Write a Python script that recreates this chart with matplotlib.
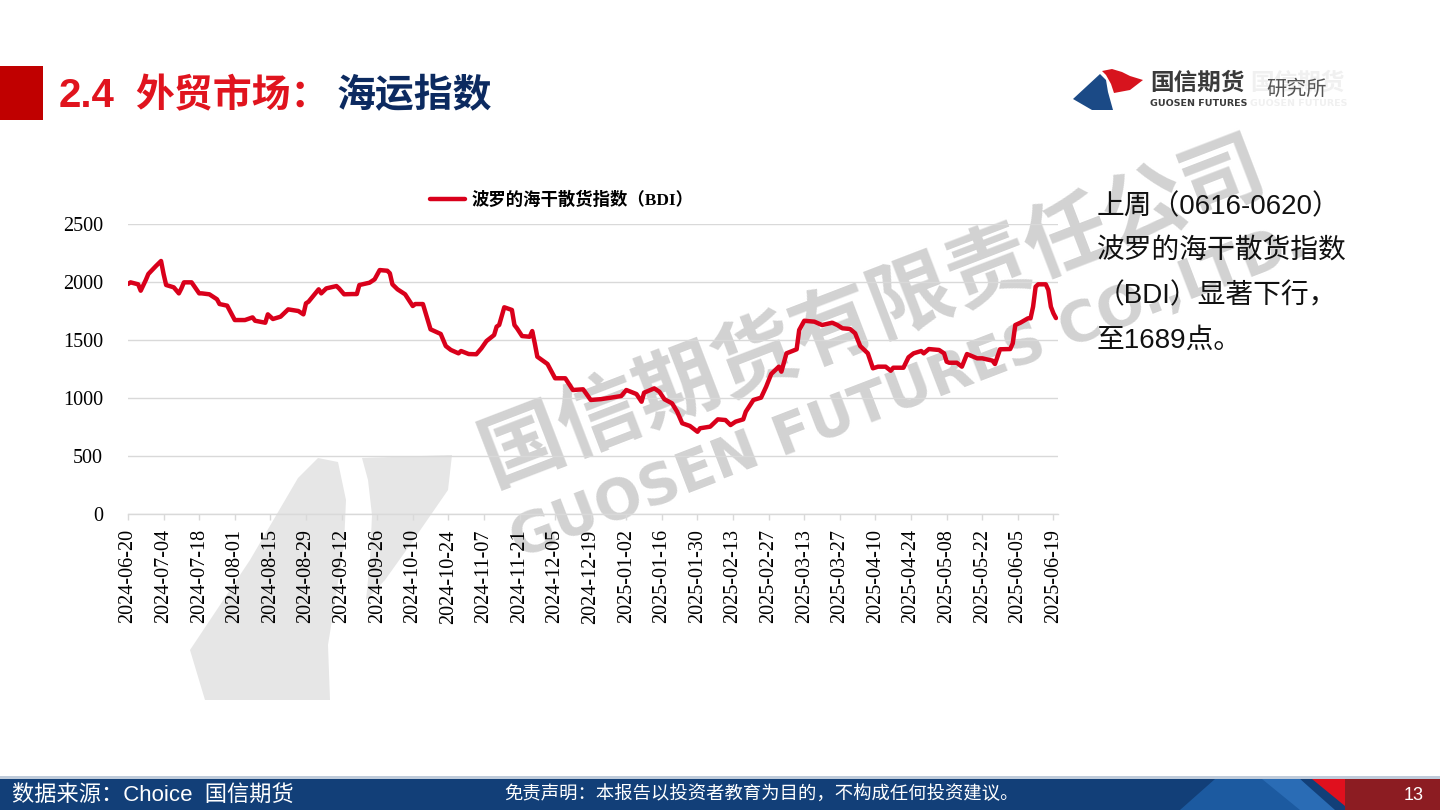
import matplotlib
matplotlib.use('Agg')
import matplotlib.pyplot as plt
from matplotlib.patches import Polygon, Rectangle
from matplotlib.font_manager import FontProperties
import pandas as pd

# ---------------- data ----------------
dates = [
    "2024-06-20", "2024-06-21", "2024-06-24", "2024-06-25", "2024-06-27", "2024-06-28",
    "2024-07-01", "2024-07-03", "2024-07-04", "2024-07-05", "2024-07-08", "2024-07-10",
    "2024-07-11", "2024-07-12", "2024-07-15", "2024-07-18", "2024-07-19", "2024-07-22",
    "2024-07-25", "2024-07-26", "2024-07-29", "2024-08-01", "2024-08-05", "2024-08-08",
    "2024-08-09", "2024-08-13", "2024-08-14", "2024-08-16", "2024-08-19", "2024-08-22",
    "2024-08-26", "2024-08-28", "2024-08-29", "2024-08-30", "2024-09-03", "2024-09-04",
    "2024-09-06", "2024-09-10", "2024-09-11", "2024-09-13", "2024-09-16", "2024-09-18",
    "2024-09-19", "2024-09-23", "2024-09-25", "2024-09-27", "2024-09-30", "2024-10-01",
    "2024-10-02", "2024-10-04", "2024-10-07", "2024-10-10", "2024-10-11", "2024-10-14",
    "2024-10-17", "2024-10-21", "2024-10-23", "2024-10-25", "2024-10-28", "2024-10-29",
    "2024-11-01", "2024-11-04", "2024-11-06", "2024-11-08", "2024-11-11", "2024-11-12",
    "2024-11-13", "2024-11-15", "2024-11-18", "2024-11-19", "2024-11-20", "2024-11-22",
    "2024-11-25", "2024-11-26", "2024-11-27", "2024-11-28", "2024-12-02", "2024-12-05",
    "2024-12-09", "2024-12-12", "2024-12-16", "2024-12-17", "2024-12-19", "2024-12-23",
    "2024-12-27", "2024-12-31", "2025-01-02", "2025-01-06", "2025-01-08", "2025-01-09",
    "2025-01-13", "2025-01-15", "2025-01-17", "2025-01-20", "2025-01-22", "2025-01-24",
    "2025-01-27", "2025-01-30", "2025-01-31", "2025-02-04", "2025-02-07", "2025-02-10",
    "2025-02-12", "2025-02-14", "2025-02-17", "2025-02-18", "2025-02-21", "2025-02-24",
    "2025-02-26", "2025-02-28", "2025-03-03", "2025-03-04", "2025-03-06", "2025-03-10",
    "2025-03-11", "2025-03-13", "2025-03-17", "2025-03-20", "2025-03-24", "2025-03-26",
    "2025-03-28", "2025-03-31", "2025-04-02", "2025-04-04", "2025-04-07", "2025-04-09",
    "2025-04-11", "2025-04-14", "2025-04-16", "2025-04-17", "2025-04-21", "2025-04-23",
    "2025-04-25", "2025-04-28", "2025-04-29", "2025-05-01", "2025-05-05", "2025-05-07",
    "2025-05-08", "2025-05-09", "2025-05-12", "2025-05-14", "2025-05-16", "2025-05-19",
    "2025-05-20", "2025-05-22", "2025-05-26", "2025-05-27", "2025-05-28", "2025-05-29",
    "2025-06-02", "2025-06-03", "2025-06-04", "2025-06-06", "2025-06-09", "2025-06-10",
    "2025-06-11", "2025-06-12", "2025-06-13", "2025-06-16", "2025-06-17", "2025-06-18",
    "2025-06-19", "2025-06-20",
]
bdi = [
    1983, 1997, 1980, 1925, 2017, 2069,
    2138, 2181, 2069, 1974, 1954, 1902,
    1945, 1997, 1997, 1902, 1902, 1894,
    1851, 1810, 1796, 1672, 1672, 1695,
    1666, 1649, 1721, 1681, 1701, 1764,
    1750, 1721, 1816, 1830, 1937, 1902,
    1945, 1965, 1945, 1894, 1896, 1896,
    1974, 1994, 2023, 2103, 2097, 2075,
    1980, 1937, 1894, 1793, 1810, 1810,
    1592, 1552, 1448, 1414, 1385, 1405,
    1379, 1377, 1428, 1491, 1543, 1615,
    1630, 1782, 1759, 1629, 1601, 1534,
    1528, 1577, 1471, 1356, 1293, 1170,
    1170, 1069, 1075, 1045, 983, 990,
    1003, 1017, 1069, 1034, 968, 1046,
    1083, 1054, 989, 954, 882, 782,
    759, 709, 739, 753, 816, 810,
    767, 796, 816, 882, 983, 1003,
    1097, 1207, 1270, 1227, 1385, 1420,
    1586, 1666, 1658, 1629, 1649, 1629,
    1601, 1595, 1558, 1448, 1385, 1256,
    1270, 1270, 1235, 1261, 1261, 1351,
    1385, 1405, 1385, 1422, 1414, 1385,
    1313, 1304, 1304, 1270, 1379, 1351,
    1342, 1342, 1322, 1293, 1356, 1420,
    1422, 1471, 1629, 1649, 1687, 1687,
    1787, 1959, 1980, 1980, 1931, 1787,
    1730, 1689,
]
x_tick_labels = [
    "2024-06-20", "2024-07-04", "2024-07-18", "2024-08-01", "2024-08-15", "2024-08-29",
    "2024-09-12", "2024-09-26", "2024-10-10", "2024-10-24", "2024-11-07", "2024-11-21",
    "2024-12-05", "2024-12-19", "2025-01-02", "2025-01-16", "2025-01-30", "2025-02-13",
    "2025-02-27", "2025-03-13", "2025-03-27", "2025-04-10", "2025-04-24", "2025-05-08",
    "2025-05-22", "2025-06-05", "2025-06-19",
]
y_ticks = [0, 500, 1000, 1500, 2000, 2500]
series_name = "波罗的海干散货指数（BDI）"
title_num = "2.4"
title_red = "外贸市场："
title_blue = "海运指数"
side_lines = ["上周（0616-0620）", "波罗的海干散货指数", "（BDI）显著下行，", "至1689点。"]
source_text = "数据来源：Choice  国信期货"
disclaimer = "免责声明：本报告以投资者教育为目的，不构成任何投资建议。"
page_no = "13"

# ---------------- figure ----------------
W, H = 1440, 810
fig = plt.figure(figsize=(14.4, 8.1), dpi=100)
fig.patch.set_facecolor('white')

def X(px):
    return px / W

def Y(py):
    return 1 - py / H

def T(px, py, s, **kw):
    return fig.text(X(px), Y(py), s, **kw)

def poly(pts, color, z=-2):
    p = Polygon([(X(a), Y(b)) for a, b in pts], closed=True, transform=fig.transFigure,
                facecolor=color, edgecolor='none', zorder=z)
    fig.add_artist(p)
    return p

def rect(x0, y0, x1, y1, color, z=1):
    r = Rectangle((X(x0), Y(y1)), (x1 - x0) / W, (y1 - y0) / H, transform=fig.transFigure,
                  facecolor=color, edgecolor='none', zorder=z)
    fig.add_artist(r)
    return r

CJK = ['Noto Sans CJK SC', 'DejaVu Sans']
SANS = ['Liberation Sans', 'Noto Sans CJK SC', 'DejaVu Sans']

# watermark (behind chart)
wm = '#D2D2D2'
wm2 = '#E6E6E6'
poly([(190, 650), (250, 560), (298, 478), (318, 458), (338, 462), (346, 500), (344, 545),
      (336, 595), (328, 645), (330, 700), (205, 700)], wm2, z=-3)
poly([(362, 458), (452, 455), (448, 490), (410, 545), (385, 580), (366, 600), (370, 560),
      (372, 515), (368, 480)], wm2, z=-3)
T(873, 312, "国信期货有限责任公司", fontsize=60, color=wm, weight='bold', family=CJK,
  rotation=21, ha='center', va='center', rotation_mode='anchor', zorder=-1)
T(908, 392, "GUOSEN FUTURES CO.,LTD.", fontsize=40, color=wm, weight='bold',
  family=['DejaVu Sans'], rotation=21, ha='center', va='center',
  rotation_mode='anchor', zorder=-1)

# ---------------- axes ----------------
ax = fig.add_axes([X(128), Y(514), 930 / W, 290 / H])
ax.patch.set_alpha(0)
xd = pd.to_datetime(dates)
ax.plot(xd, bdi, color='#D9001B', lw=3.2, solid_joinstyle='round', solid_capstyle='round',
        label=series_name, zorder=3)
ax.set_ylim(0, 2500)
ax.set_yticks(y_ticks)
ax.set_yticklabels([str(v) for v in y_ticks], fontfamily='Liberation Serif', fontsize=14.5)
x0 = pd.Timestamp(x_tick_labels[0])
ax.set_xlim(x0, x0 + pd.Timedelta(hours=365.8 * 24))
ax.set_xticks(pd.to_datetime(x_tick_labels))
ax.set_xticklabels(x_tick_labels, rotation=90, fontfamily='Liberation Serif', fontsize=14.5)
ax.grid(axis='y', color='#D9D9D9', lw=1.0)
ax.set_axisbelow(True)
for s in ['top', 'right', 'left']:
    ax.spines[s].set_visible(False)
ax.spines['bottom'].set_color('#D9D9D9')
ax.spines['bottom'].set_linewidth(1.0)
ax.tick_params(axis='x', direction='out', length=4, width=1, color='#D9D9D9', pad=7)
ax.tick_params(axis='y', length=0, pad=18)

leg_prop = FontProperties(family=['Liberation Serif', 'Noto Sans CJK SC'], weight='bold', size=12.5)
ax.legend(loc='center', bbox_to_anchor=((562 - 128) / 930, (514 - 200) / 290), frameon=False,
          prop=leg_prop, handlelength=2.0, handletextpad=0.4)

# ---------------- title ----------------
rect(0, 66, 43, 120, '#C00000')
T(59, 96, title_num, fontsize=29, weight='bold', color='#E0141E', family=SANS, va='center', ha='left')
T(135, 96, title_red, fontsize=28, weight='bold', color='#E0141E', family=CJK, va='center', ha='left')
T(337, 96, title_blue, fontsize=28, weight='bold', color='#0C2A60', family=CJK, va='center', ha='left')

# ---------------- logo ----------------
poly([(1073, 99), (1100, 74), (1106, 80), (1108, 92), (1113, 110), (1092, 110)], '#1B4A86', z=2)
poly([(1102, 71), (1112, 69), (1122, 72), (1130, 76), (1143, 80), (1130, 90), (1114, 93),
      (1111, 84), (1106, 75)], '#D7141E', z=2)
T(1150, 83, "国信期货", fontsize=17, weight='bold', color='#3A3A3A', family=CJK, va='center', ha='left')
T(1150, 104, "GUOSEN FUTURES", fontsize=6.8, weight='bold', color='#3A3A3A',
  family=['DejaVu Sans'], va='center', ha='left')
T(1250, 83, "国信期货", fontsize=17, weight='bold', color='#F0F0F0', family=CJK, va='center', ha='left', zorder=0)
T(1250, 104, "GUOSEN FUTURES", fontsize=6.8, weight='bold', color='#F0F0F0',
  family=['DejaVu Sans'], va='center', ha='left', zorder=0)
T(1266, 89, "研究所", fontsize=14.5, color='#555555', family=CJK, va='center', ha='left', zorder=4)

# ---------------- side text ----------------
for i, line in enumerate(side_lines):
    T(1097, 207 + i * 44.5, line, fontsize=20, color='#111111', family=SANS, va='center', ha='left')

# ---------------- footer ----------------
rect(0, 776, 1440, 779, '#BFCBDA', z=1)
rect(0, 779, 1440, 810, '#123F78', z=1)
poly([(1180, 810), (1215, 779), (1300, 779), (1330, 810)], '#1C5AA0', z=1.5)
poly([(1262, 779), (1300, 779), (1335, 810), (1300, 810)], '#2A6CB5', z=1.6)
poly([(1312, 779), (1345, 779), (1345, 806)], '#E0101E', z=1.7)
rect(1345, 779, 1440, 810, '#8C1C22', z=1.7)
T(12, 795, source_text, fontsize=16, color='white', family=SANS, va='center', ha='left', zorder=3)
T(762, 795, disclaimer, fontsize=13.2, color='white', family=CJK, va='center', ha='center', zorder=3)
T(1414, 795, page_no, fontsize=13, color='white', family=SANS, va='center', ha='center', zorder=3)

fig.savefig('out.png', dpi=100)
